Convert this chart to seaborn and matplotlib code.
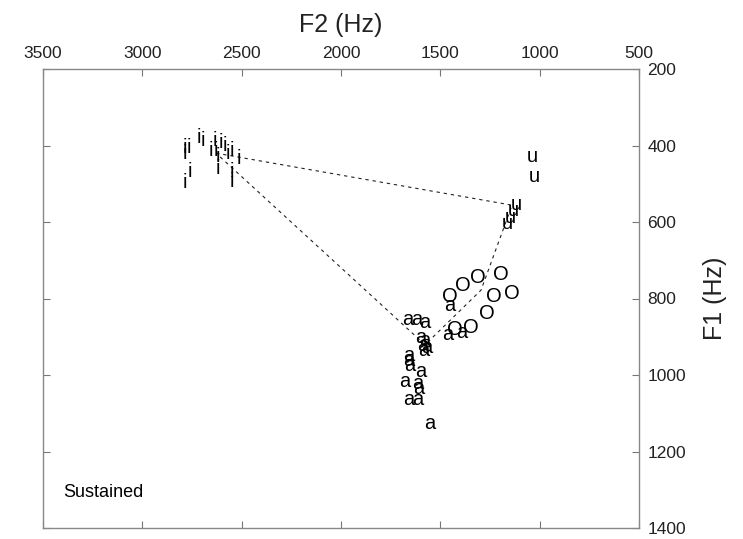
import matplotlib
matplotlib.use("Agg")
import matplotlib.pyplot as plt
import seaborn as sns
import pandas as pd

# ---- data (F2, F1 in Hz) ----
i_f2 = [2785, 2785, 2765, 2760, 2785, 2715, 2695, 2654, 2634, 2629, 2619, 2619,
        2604, 2584, 2569, 2549, 2549, 2549, 2513]
i_f1 = [404, 420, 406, 469, 498, 378, 386, 412, 386, 412, 430, 459,
        393, 401, 420, 412, 469, 495, 435]

u_f2 = [1038, 1028, 1119, 1134, 1149, 1164]
u_f1 = [430, 482, 555, 571, 587, 605]

a_f2 = [1663, 1617, 1577, 1597, 1577, 1587, 1567, 1582, 1658, 1658, 1653,
        1597, 1678, 1612, 1607, 1658, 1612, 1552, 1451, 1461, 1391]
a_f1 = [856, 854, 864, 903, 911, 922, 929, 937, 948, 961, 976,
        992, 1018, 1021, 1034, 1065, 1063, 1128, 817, 895, 890]

o_f2 = [1451, 1386, 1310, 1194, 1230, 1139, 1265, 1345, 1426]
o_f1 = [796, 765, 746, 738, 796, 788, 840, 877, 882]

# vowel polygon vertices (category centres): i -> u -> O -> a -> i
poly_labels = ["i", "u", "O", "a", "i"]
poly_f2 = [2629, 1139, 1295, 1577, 2629]
poly_f1 = [420, 556, 778, 921, 420]

x_ticks = [3500, 3000, 2500, 2000, 1500, 1000, 500]
y_ticks = [200, 400, 600, 800, 1000, 1200, 1400]
condition_label = "Sustained"

# ---- build tables ----
tokens = pd.DataFrame({
    "vowel": ["i"] * len(i_f2) + ["u"] * len(u_f2) + ["a"] * len(a_f2) + ["O"] * len(o_f2),
    "F2": i_f2 + u_f2 + a_f2 + o_f2,
    "F1": i_f1 + u_f1 + a_f1 + o_f1,
})
poly = pd.DataFrame({"vowel": poly_labels, "F2": poly_f2, "F1": poly_f1, "order": range(len(poly_f2))})

sns.set_theme(style="white")
plt.rcParams["font.family"] = ["Liberation Sans", "DejaVu Sans"]

fig = plt.figure(figsize=(7.43, 5.39), dpi=100)
ax = fig.add_axes([43 / 743, 1 - 528 / 539, (639 - 43) / 743, (528 - 69) / 539])

# polygon
sns.lineplot(data=poly, x="F2", y="F1", sort=False, estimator=None, ax=ax,
             color="#222222", linewidth=0.8, dashes=False, legend=False)
ax.lines[-1].set_dashes([3, 3.5])

# text tokens
for _, r in tokens.iterrows():
    ax.text(r["F2"], r["F1"], r["vowel"], ha="center", va="center",
            fontsize=14.5, color="black")

ax.set_xlim(3500, 500)
ax.set_ylim(1400, 200)
ax.set_xticks(x_ticks)
ax.set_yticks(y_ticks)

ax.xaxis.tick_top()
ax.xaxis.set_label_position("top")
ax.yaxis.tick_right()
ax.yaxis.set_label_position("right")

ax.tick_params(axis="x", which="both", direction="in", length=5, width=0.8,
               color="#777777", labelsize=12.5, labelcolor="#222222", pad=5.5,
               top=True, bottom=True, labeltop=True, labelbottom=False)
ax.tick_params(axis="y", which="both", direction="in", length=5, width=0.8,
               color="#777777", labelsize=12.5, labelcolor="#222222", pad=6,
               right=True, left=True, labelright=True, labelleft=False)

ax.set_xlabel("F2 (Hz)", fontsize=18, color="#222222", labelpad=10)
ax.set_ylabel("F1 (Hz)", fontsize=18, color="#222222", labelpad=12)

for s in ax.spines.values():
    s.set_color("#888888")
    s.set_linewidth(1.0)
    s.set_visible(True)

ax.text(0.034, 0.078, condition_label, transform=ax.transAxes, ha="left",
        va="center", fontsize=13, color="black")

fig.savefig("out.png", dpi=100)
